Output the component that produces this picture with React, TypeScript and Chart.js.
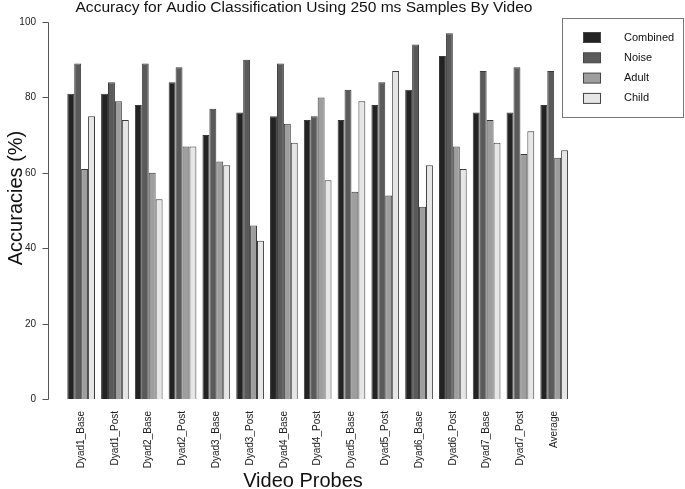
import React, { useEffect, useRef } from "react";
import { Chart, registerables } from "chart.js";

Chart.register(...registerables);

const categories = [
  "Dyad1_Base", "Dyad1_Post", "Dyad2_Base", "Dyad2_Post", "Dyad3_Base",
  "Dyad3_Post", "Dyad4_Base", "Dyad4_Post", "Dyad5_Base", "Dyad5_Post",
  "Dyad6_Base", "Dyad6_Post", "Dyad7_Base", "Dyad7_Post", "Average",
];
const combined = [81, 81, 78, 84, 70, 76, 75, 74, 74, 78, 82, 91, 76, 76, 78];
const noise = [89, 84, 89, 88, 77, 90, 89, 75, 82, 84, 94, 97, 87, 88, 87];
const adult = [61, 79, 60, 67, 63, 46, 73, 80, 55, 54, 51, 67, 74, 65, 64];
const child = [75, 74, 53, 67, 62, 42, 68, 58, 79, 87, 62, 61, 68, 71, 66];
const seriesNames = ["Combined", "Noise", "Adult", "Child"];
const seriesColors = ["#232323", "#5a5a5a", "#9e9e9e", "#e6e6e6"];
const yTicks = [0, 20, 40, 60, 80, 100];
const chartTitle = "Accuracy for Audio Classification Using 250 ms Samples By Video";
const xTitle = "Video Probes";
const yTitle = "Accuracies (%)";

const FONT = "'Liberation Sans', Arial, Helvetica, sans-serif";

const decorPlugin = {
  id: "decor",
  afterDraw(chart: any) {
    const ctx = chart.ctx as CanvasRenderingContext2D;
    const y = chart.scales.y;
    ctx.save();
    // y axis line and ticks
    const axisX = 48.5;
    ctx.strokeStyle = "#555";
    ctx.lineWidth = 1;
    ctx.beginPath();
    ctx.moveTo(axisX, Math.round(y.getPixelForValue(0)) + 0.5);
    ctx.lineTo(axisX, Math.round(y.getPixelForValue(100)) + 0.5);
    ctx.stroke();
    ctx.fillStyle = "#222";
    ctx.font = `10px ${FONT}`;
    ctx.textAlign = "right";
    ctx.textBaseline = "middle";
    yTicks.forEach((t) => {
      const py = Math.round(y.getPixelForValue(t)) + 0.5;
      ctx.beginPath();
      ctx.moveTo(axisX - 6, py);
      ctx.lineTo(axisX, py);
      ctx.stroke();
      ctx.fillText(String(t), 36, py);
    });

    // titles
    ctx.fillStyle = "#111";
    ctx.textAlign = "center";
    ctx.textBaseline = "alphabetic";
    ctx.font = `14px ${FONT}`;
    const tw = ctx.measureText(chartTitle).width;
    ctx.save();
    ctx.translate(304, 11.5);
    ctx.scale(457 / tw, 1);
    ctx.fillText(chartTitle, 0, 0);
    ctx.restore();
    ctx.font = `20px ${FONT}`;
    ctx.fillText(xTitle, 303, 487);
    ctx.save();
    ctx.translate(22, 198);
    ctx.rotate(-Math.PI / 2);
    ctx.fillText(yTitle, 0, 0);
    ctx.restore();

    // legend
    const lx = 562.5, ly = 18.5, lw = 121, lh = 99;
    ctx.fillStyle = "#fff";
    ctx.fillRect(lx, ly, lw, lh);
    ctx.strokeStyle = "#777";
    ctx.strokeRect(lx, ly, lw, lh);
    ctx.font = `11px ${FONT}`;
    ctx.textAlign = "left";
    ctx.textBaseline = "middle";
    chart.data.datasets.forEach((ds: any, i: number) => {
      const sy = 32.5 + i * 20.3;
      ctx.fillStyle = ds.backgroundColor;
      ctx.fillRect(583.5, sy, 17, 10);
      ctx.strokeStyle = "#444";
      ctx.strokeRect(583.5, sy, 17, 10);
      ctx.fillStyle = "#111";
      ctx.fillText(ds.label, 624, sy + 5);
    });
    ctx.restore();
  },
};

export default function App() {
  const ref = useRef<HTMLCanvasElement | null>(null);
  useEffect(() => {
    if (!ref.current) return;
    const series = [combined, noise, adult, child];
    const chart = new Chart(ref.current, {
      type: "bar",
      data: {
        labels: categories,
        datasets: series.map((d, i) => ({
          label: seriesNames[i],
          data: d,
          backgroundColor: seriesColors[i],
          borderColor: "#3a3a3a",
          borderWidth: 1,
          categoryPercentage: 0.82,
          barPercentage: 1,
        })),
      },
      options: {
        responsive: false,
        animation: false,
        layout: { padding: { left: 64.25, right: 113.9, top: 22, bottom: 0 } },
        plugins: { legend: { display: false }, title: { display: false }, tooltip: { enabled: false } },
        scales: {
          x: {
            grid: { display: false, drawTicks: false },
            border: { display: false },
            ticks: {
              autoSkip: false,
              minRotation: 90,
              maxRotation: 90,
              padding: 12,
              color: "#222",
              font: { family: FONT, size: 10 },
            },
            afterFit: (scale: any) => { scale.height = 90; },
          },
          y: {
            display: false,
            min: 0,
            max: 100,
          },
        },
      },
      plugins: [decorPlugin],
    });
    return () => chart.destroy();
  }, []);
  return (
    <div style={{ position: "fixed", left: 0, top: 0, width: 685, height: 489, background: "#fff" }}>
      <canvas ref={ref} width={685} height={489} />
    </div>
  );
}
